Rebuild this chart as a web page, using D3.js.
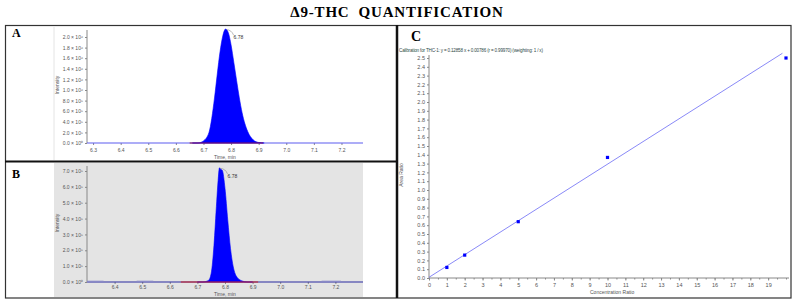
<!DOCTYPE html>
<head>
  <meta charset="utf-8">
  <style>
  body{
    margin:0;
    background:white;
  }
  .panel-label{
    font-family: "Liberation Serif", "DejaVu Serif", serif;
    font-weight: bold;
  }
  .tiny text{
    font-family: "Liberation Sans", Arial, sans-serif;
    font-size: 5px;
    fill: #555;
  }
  .tiny path.domain{
    stroke: #888;
  }
  .tiny line{
    stroke: #888;
  }
  </style>
</head>
<body>
  <svg width="795" height="302"></svg>
  <script src="https://cdnjs.cloudflare.com/ajax/libs/d3/7.8.5/d3.min.js"></script>
  <script>

  // chromatogram A (standard), intensity in counts
  var peakA_time = [6.66, 6.68, 6.70, 6.72, 6.74, 6.75, 6.76, 6.77, 6.78, 6.79, 6.80, 6.81, 6.82, 6.83, 6.84, 6.86, 6.88, 6.90, 6.92];
  var peakA_int  = [0, 0, 0.04e6, 0.20e6, 0.85e6, 1.30e6, 1.72e6, 2.02e6, 2.15e6, 2.08e6, 1.85e6, 1.52e6, 1.18e6, 0.85e6, 0.57e6, 0.22e6, 0.06e6, 0.01e6, 0];
  var yTicksA = [0, 2e5, 4e5, 6e5, 8e5, 1.0e6, 1.2e6, 1.4e6, 1.6e6, 1.8e6, 2.0e6];
  var xTicksA = [6.3, 6.4, 6.5, 6.6, 6.7, 6.8, 6.9, 7.0, 7.1, 7.2];

  // chromatogram B (sample)
  var peakB_time = [6.70, 6.72, 6.74, 6.75, 6.76, 6.77, 6.775, 6.78, 6.785, 6.79, 6.80, 6.81, 6.82, 6.83, 6.84, 6.86, 6.88, 6.90];
  var peakB_int  = [0, 0, 0.10e5, 0.55e5, 2.30e5, 5.10e5, 6.40e5, 7.20e5, 7.10e5, 7.05e5, 5.90e5, 3.90e5, 2.10e5, 0.95e5, 0.40e5, 0.08e5, 0, 0];
  var yTicksB = [0, 1e5, 2e5, 3e5, 4e5, 5e5, 6e5, 7e5];
  var xTicksB = [6.4, 6.5, 6.6, 6.7, 6.8, 6.9, 7.0, 7.1, 7.2];
  var noiseB = [[6.30, 6.36], [6.48, 6.54], [7.15, 7.22]];

  // calibration C
  var calConc = [1, 2, 5, 10, 20];
  var calArea = [0.12, 0.26, 0.64, 1.37, 2.50];
  var calSlope = 0.12858, calIntercept = 0.00786;
  var xTicksC = d3.range(0, 20, 1);
  var yTicksC = d3.range(0, 26, 1).map(function(d) { return d / 10; });

  var svg = d3.select("svg");

  // title
  svg.append("text")
      .attr("class", "panel-label")
      .attr("x", 397).attr("y", 17)
      .attr("text-anchor", "middle")
      .style("font-size", "15px")
      .style("letter-spacing", "0.8px")
      .text("\u03949-THC\u00a0\u00a0QUANTIFICATION");

  function sciFmt(v) {
    if (v === 0) return "0.0 \u00d7 10\u2070";
    if (v >= 1e6) return (v / 1e6).toFixed(1) + " \u00d7 10\u2076";
    return (v / 1e5).toFixed(1) + " \u00d7 10\u2075";
  }

  function chromatogram(o) {
    var g = svg.append("g").attr("class", "tiny");
    if (o.bg) {
      g.append("rect").attr("x", 54).attr("y", o.top).attr("width", 309).attr("height", o.bottom - o.top)
        .attr("fill", o.bg);
    } else {
      g.append("line").attr("x1", 54).attr("x2", 54).attr("y1", o.top).attr("y2", o.bottom)
        .style("stroke", "#e4e4e4");
    }

    var x = d3.scaleLinear().domain(o.xDomain).range([87, 363]);
    var y = d3.scaleLinear().domain(o.yDomain).range(o.yRange);

    g.append("g")
        .attr("transform", "translate(87,0)")
        .call(d3.axisLeft(y).tickValues(o.yTicks).tickFormat(sciFmt).tickSize(2).tickPadding(2))
        .call(function(a) { a.select(".domain").attr("d", "M0," + o.yRange[0] + "V" + o.yTop); });

    g.append("g")
        .attr("transform", "translate(0," + o.yRange[0] + ")")
        .call(d3.axisBottom(x).tickValues(o.xTicks).tickFormat(d3.format(".1f")).tickSize(2).tickPadding(o.xPad))
        .call(function(a) { a.select(".domain").remove(); });

    // trace baseline
    g.append("line").attr("x1", 87).attr("x2", 363).attr("y1", o.yRange[0]).attr("y2", o.yRange[0])
      .style("stroke", o.traceColor).style("stroke-width", 1.2);

    (o.noise || []).forEach(function(s) {
      g.append("line").attr("x1", x(s[0])).attr("x2", x(s[1]))
        .attr("y1", o.yRange[0] - 0.7).attr("y2", o.yRange[0] - 0.7)
        .style("stroke", "#8a8ac8").style("stroke-width", 1.2);
    });

    var pts = o.time.map(function(t, i) { return [t, o.int[i]]; });
    g.append("path")
        .datum(pts)
        .attr("fill", "#0000ff")
        .attr("stroke", "#0000ff")
        .attr("stroke-width", 0.6)
        .attr("d", d3.area().curve(d3.curveMonotoneX)
          .x(function(d) { return x(d[0]); })
          .y0(y(0))
          .y1(function(d) { return y(d[1]); }));

    // integration baseline
    g.append("line").attr("x1", x(o.intStart)).attr("x2", x(o.intEnd))
      .attr("y1", o.yRange[0]).attr("y2", o.yRange[0])
      .style("stroke", o.intColor).style("stroke-width", 1.2);

    // apex label
    var ax = x(o.apex[0]), ay = y(o.apex[1]);
    g.append("path")
      .attr("d", "M" + (ax + 1) + "," + (ay + 0.5) + "Q" + (ax + 6) + "," + (ay + 1) + " " + (ax + 8) + "," + (ay + 6))
      .attr("fill", "none").style("stroke", "#777").style("stroke-width", 0.5);
    g.append("text").attr("x", ax + 8).attr("y", ay + 10).text(o.apex[0].toFixed(2)).style("fill", "#333");

    g.append("text").attr("x", 225).attr("y", o.xLabelY).attr("text-anchor", "middle").text("Time, min");
    g.append("text")
      .attr("transform", "translate(59," + o.yLabelY + ") rotate(-90)")
      .attr("text-anchor", "middle").text("Intensity");
  }

  chromatogram({
    top: 27, bottom: 160,
    xDomain: [6.278, 7.278], yDomain: [0, 2e6], yRange: [143, 37], yTop: 30,
    yTicks: yTicksA, xTicks: xTicksA, xPad: 3,
    time: peakA_time, int: peakA_int,
    traceColor: "#5c5cf0", intColor: "#8a1050",
    intStart: 6.65, intEnd: 6.916,
    apex: [6.78, 2.15e6],
    xLabelY: 159, yLabelY: 85
  });

  chromatogram({
    top: 163, bottom: 297, bg: "#e4e4e4",
    xDomain: [6.3, 7.3], yDomain: [0, 7e5], yRange: [282, 171], yTop: 166,
    yTicks: yTicksB, xTicks: xTicksB, xPad: 1,
    time: peakB_time, int: peakB_int,
    traceColor: "#2a2aa0", intColor: "#d02020",
    intStart: 6.64, intEnd: 6.92,
    noise: noiseB,
    apex: [6.78, 7.2e5],
    xLabelY: 296, yLabelY: 223
  });

  // calibration panel
  var gc = svg.append("g").attr("class", "tiny");
  var xC = d3.scaleLinear().domain([0, 20]).range([429, 786]);
  var yC = d3.scaleLinear().domain([0, 2.5]).range([278, 58]);

  gc.append("text").attr("x", 399).attr("y", 52)
    .style("fill", "#2f4a48").style("font-size", "4.6px")
    .attr("textLength", 144)
    .text("Calibration for THC-1: y = " + calSlope.toFixed(5) + " x + " + calIntercept.toFixed(5) + " (r = 0.99970)  (weighting: 1 / x)");

  gc.append("g")
      .attr("transform", "translate(429,0)")
      .call(d3.axisLeft(yC).tickValues(yTicksC).tickFormat(d3.format(".1f")).tickSize(2).tickPadding(2))
      .call(function(a) { a.select(".domain").attr("d", "M0,278V55"); a.selectAll("text").style("font-size", "5.5px"); });

  gc.append("g")
      .attr("transform", "translate(0,278)")
      .call(d3.axisBottom(xC).tickValues(d3.range(0, 20.1, 0.5)).tickSize(1.5).tickFormat(""))
      .call(function(a) { a.select(".domain").remove(); });
  gc.append("g")
      .attr("transform", "translate(0,278)")
      .call(d3.axisBottom(xC).tickValues(xTicksC).tickFormat(d3.format("d")).tickSize(2.5).tickPadding(2.5))
      .call(function(a) { a.select(".domain").attr("d", "M429,0H789"); a.selectAll("text").style("font-size", "5.5px"); });

  gc.append("line")
      .attr("x1", xC(0)).attr("y1", yC(calIntercept))
      .attr("x2", xC(19.8)).attr("y2", yC(calSlope * 19.8 + calIntercept))
      .style("stroke", "#6b6bf5").style("stroke-width", 0.8);

  gc.selectAll("rect.pt")
    .data(calConc)
    .enter().append("rect")
      .attr("class", "pt")
      .attr("x", function(d) { return xC(d) - 1.6; })
      .attr("y", function(d, i) { return yC(calArea[i]) - 1.6; })
      .attr("width", 3.2).attr("height", 3.2)
      .attr("fill", "#0000ff");

  gc.append("text").attr("x", 590).attr("y", 294).text("Concentration Ratio");
  gc.append("text").attr("transform", "translate(403,175) rotate(-90)").attr("text-anchor", "middle").text("Area Ratio");

  // panel labels
  svg.append("text").attr("class", "panel-label").attr("x", 12).attr("y", 37).style("font-size", "12px").text("A");
  svg.append("text").attr("class", "panel-label").attr("x", 12).attr("y", 178).style("font-size", "12px").text("B");
  svg.append("text").attr("class", "panel-label").attr("x", 411).attr("y", 41).style("font-size", "14px").text("C");

  // frames
  svg.append("rect").attr("x", 5.5).attr("y", 25.5).attr("width", 785.5).attr("height", 272.5)
    .attr("fill", "none").style("stroke", "#333").style("stroke-width", 1.2);
  svg.append("line").attr("x1", 5).attr("x2", 397).attr("y1", 161.5).attr("y2", 161.5)
    .style("stroke", "#111").style("stroke-width", 2.2);
  svg.append("line").attr("x1", 397).attr("x2", 397).attr("y1", 25).attr("y2", 298)
    .style("stroke", "#111").style("stroke-width", 2.5);

  </script>
</body>
